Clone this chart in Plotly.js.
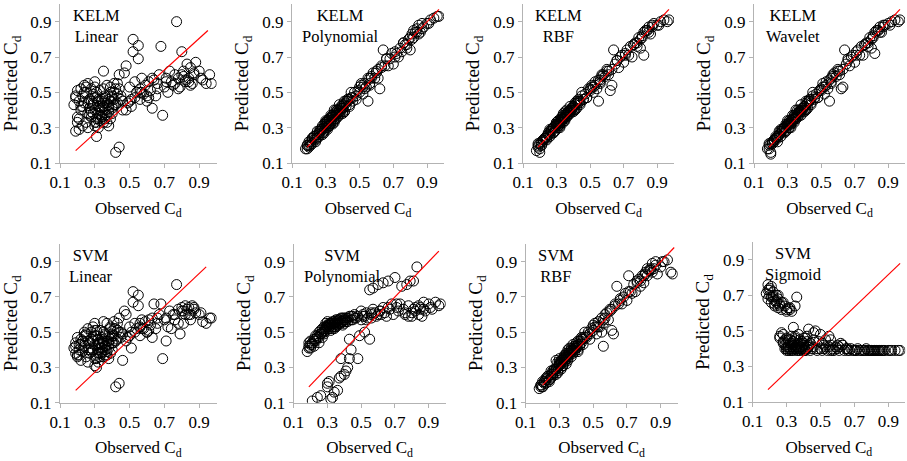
<!DOCTYPE html>
<html><head><meta charset="utf-8">
<script src="https://cdn.plot.ly/plotly-3.0.1.min.js"></script>
<style>html,body{margin:0;padding:0;background:#fff}#chart{width:907px;height:461px}</style>
</head><body><div id="chart"></div>
<script>
// ---------- DATA ----------
const observed = [
0.18,0.19,0.19,0.20,0.20,0.21,0.21,0.22,0.22,0.23,
0.23,0.24,0.24,0.25,0.25,0.26,0.26,0.27,0.27,0.28,
0.28,0.29,0.29,0.30,0.30,0.30,0.31,0.31,0.31,0.32,
0.32,0.32,0.33,0.33,0.33,0.34,0.34,0.34,0.35,0.35,
0.35,0.36,0.36,0.37,0.37,0.38,0.38,0.39,0.39,0.40,
0.40,0.41,0.41,0.42,0.42,0.43,0.44,0.44,0.45,0.46,
0.47,0.48,0.49,0.50,0.51,0.52,0.52,0.53,0.54,0.55,
0.55,0.56,0.56,0.57,0.58,0.59,0.60,0.61,0.62,0.63,
0.64,0.65,0.66,0.67,0.68,0.69,0.70,0.71,0.72,0.73,
0.74,0.75,0.76,0.77,0.78,0.79,0.80,0.81,0.82,0.83,
0.84,0.85,0.86,0.87,0.88,0.90,0.92,0.94,0.96,0.97,
0.20,0.22,0.24,0.26,0.28,0.29,0.30,0.31,0.32,0.33,
0.34,0.35,0.36,0.37,0.38,0.39,0.40,0.41,0.43,0.45,
0.48,0.50,0.53,0.57,0.60,0.63,0.78,0.80,0.82,0.85,
0.19,0.21,0.23,0.25,0.27,0.29,0.30,0.31,0.32,0.33,
0.34,0.35,0.36,0.37,0.38,0.39,0.40,0.41,0.42,0.44,
0.26,0.28,0.30,0.32,0.34,0.36,0.38,0.40,0.43,0.46,
0.51,0.56,0.61,0.66,0.71,0.76,0.81,0.84,0.87,0.91];

const kelmLinear = [
0.43,0.28,0.47,0.36,0.51,0.29,0.45,0.52,0.40,0.31,
0.48,0.54,0.44,0.33,0.50,0.38,0.55,0.46,0.41,0.52,
0.36,0.49,0.43,0.31,0.56,0.40,0.25,0.47,0.35,0.45,
0.38,0.30,0.51,0.42,0.34,0.46,0.39,0.36,0.62,0.44,
0.33,0.48,0.40,0.54,0.37,0.31,0.43,0.50,0.35,0.47,
0.41,0.55,0.46,0.16,0.52,0.44,0.19,0.60,0.48,0.40,
0.61,0.65,0.44,0.53,0.42,0.80,0.73,0.47,0.50,0.765,
0.69,0.52,0.46,0.58,0.49,0.54,0.45,0.56,0.51,0.41,
0.57,0.48,0.55,0.60,0.76,0.37,0.53,0.58,0.50,0.62,
0.56,0.54,0.60,0.90,0.58,0.53,0.73,0.62,0.56,0.66,
0.58,0.64,0.55,0.60,0.67,0.62,0.57,0.55,0.60,0.55,
0.33,0.42,0.50,0.30,0.45,0.38,0.53,0.33,0.42,0.37,
0.45,0.52,0.35,0.44,0.39,0.53,0.48,0.43,0.55,0.46,
0.40,0.45,0.56,0.50,0.48,0.58,0.52,0.60,0.57,0.54,
0.48,0.35,0.42,0.53,0.37,0.44,0.33,0.50,0.46,0.40,
0.36,0.42,0.47,0.33,0.41,0.45,0.38,0.50,0.43,0.52,
0.44,0.39,0.47,0.35,0.41,0.37,0.46,0.42,0.49,0.45,
0.46,0.50,0.47,0.52,0.56,0.55,0.59,0.56,0.61,0.58];

const kelmPolynomial = [
0.18,0.18,0.20,0.22,0.19,0.22,0.21,0.24,0.21,0.24,
0.25,0.24,0.22,0.26,0.28,0.26,0.25,0.29,0.28,0.26,
0.29,0.32,0.28,0.30,0.32,0.34,0.29,0.32,0.34,0.32,
0.34,0.31,0.34,0.37,0.33,0.36,0.32,0.37,0.36,0.40,
0.35,0.38,0.40,0.36,0.40,0.39,0.43,0.41,0.39,0.43,
0.41,0.39,0.45,0.44,0.42,0.46,0.43,0.46,0.50,0.47,
0.50,0.46,0.51,0.50,0.55,0.49,0.53,0.55,0.53,0.58,
0.45,0.58,0.54,0.58,0.61,0.58,0.62,0.58,0.52,0.64,
0.74,0.65,0.69,0.65,0.69,0.72,0.66,0.73,0.72,0.70,
0.75,0.73,0.78,0.77,0.75,0.80,0.74,0.83,0.81,0.84,
0.84,0.88,0.84,0.89,0.87,0.89,0.91,0.92,0.93,0.93,
0.20,0.24,0.23,0.27,0.31,0.27,0.31,0.33,0.31,0.36,
0.36,0.34,0.37,0.40,0.38,0.41,0.41,0.39,0.46,0.47,
0.48,0.53,0.52,0.59,0.61,0.65,0.77,0.81,0.85,0.83,
0.20,0.20,0.25,0.24,0.29,0.30,0.33,0.30,0.35,0.32,
0.37,0.33,0.39,0.38,0.37,0.42,0.38,0.43,0.45,0.42,
0.28,0.27,0.33,0.31,0.36,0.35,0.40,0.39,0.45,0.45,
0.54,0.55,0.63,0.69,0.70,0.78,0.80,0.86,0.86,0.89];

const kelmRBF = [
0.17,0.19,0.20,0.21,0.18,0.22,0.20,0.23,0.22,0.24,
0.24,0.25,0.23,0.26,0.27,0.25,0.26,0.28,0.29,0.27,
0.30,0.31,0.28,0.31,0.33,0.33,0.30,0.31,0.34,0.33,
0.33,0.31,0.35,0.36,0.34,0.35,0.33,0.38,0.36,0.39,
0.36,0.37,0.40,0.37,0.39,0.40,0.42,0.41,0.40,0.42,
0.42,0.40,0.44,0.45,0.41,0.46,0.44,0.45,0.50,0.46,
0.49,0.47,0.52,0.51,0.54,0.50,0.53,0.56,0.52,0.57,
0.45,0.57,0.55,0.59,0.60,0.59,0.63,0.60,0.51,0.63,
0.74,0.66,0.68,0.64,0.70,0.71,0.67,0.72,0.74,0.71,
0.76,0.70,0.77,0.78,0.76,0.81,0.75,0.82,0.71,0.85,
0.85,0.87,0.83,0.88,0.89,0.88,0.90,0.91,0.90,0.91,
0.16,0.23,0.24,0.28,0.30,0.28,0.32,0.32,0.30,0.35,
0.37,0.35,0.38,0.39,0.39,0.40,0.42,0.40,0.45,0.48,
0.47,0.52,0.54,0.60,0.62,0.54,0.78,0.80,0.84,0.84,
0.21,0.20,0.24,0.26,0.28,0.31,0.32,0.31,0.34,0.33,
0.36,0.34,0.38,0.39,0.38,0.41,0.39,0.43,0.44,0.43,
0.29,0.27,0.32,0.32,0.35,0.36,0.39,0.40,0.44,0.46,
0.53,0.56,0.62,0.68,0.71,0.77,0.81,0.85,0.87,0.88];

const kelmWavelet = [
0.18,0.18,0.20,0.21,0.16,0.22,0.21,0.23,0.22,0.25,
0.24,0.25,0.22,0.26,0.28,0.25,0.27,0.28,0.29,0.27,
0.30,0.32,0.28,0.31,0.32,0.34,0.30,0.32,0.34,0.33,
0.33,0.32,0.35,0.37,0.34,0.35,0.33,0.37,0.36,0.40,
0.36,0.38,0.40,0.37,0.39,0.40,0.43,0.41,0.40,0.42,
0.42,0.40,0.45,0.45,0.41,0.46,0.44,0.46,0.50,0.47,
0.49,0.47,0.51,0.51,0.55,0.49,0.53,0.56,0.52,0.57,
0.45,0.58,0.55,0.59,0.61,0.59,0.63,0.60,0.52,0.63,
0.74,0.66,0.69,0.65,0.70,0.71,0.67,0.73,0.74,0.71,
0.76,0.71,0.77,0.78,0.76,0.81,0.75,0.82,0.72,0.85,
0.85,0.87,0.84,0.88,0.88,0.89,0.90,0.91,0.90,0.91,
0.15,0.23,0.24,0.28,0.30,0.28,0.32,0.33,0.30,0.35,
0.37,0.35,0.38,0.40,0.39,0.41,0.42,0.40,0.45,0.48,
0.47,0.52,0.54,0.60,0.62,0.53,0.78,0.80,0.84,0.84,
0.21,0.21,0.24,0.26,0.29,0.31,0.32,0.30,0.34,0.33,
0.36,0.35,0.38,0.39,0.37,0.41,0.39,0.43,0.44,0.43,
0.29,0.28,0.32,0.32,0.35,0.36,0.39,0.40,0.45,0.46,
0.53,0.56,0.62,0.68,0.71,0.77,0.81,0.85,0.87,0.88];

const svmLinear = [
0.41,0.38,0.44,0.36,0.47,0.40,0.43,0.34,0.46,0.39,
0.45,0.50,0.42,0.36,0.48,0.40,0.52,0.44,0.38,0.50,
0.39,0.53,0.45,0.31,0.55,0.43,0.30,0.48,0.37,0.46,
0.40,0.33,0.51,0.44,0.36,0.47,0.41,0.38,0.56,0.45,
0.36,0.49,0.42,0.55,0.39,0.35,0.45,0.52,0.38,0.48,
0.44,0.56,0.48,0.19,0.52,0.46,0.21,0.58,0.50,0.34,
0.62,0.60,0.47,0.53,0.41,0.73,0.67,0.50,0.52,0.71,
0.65,0.55,0.48,0.57,0.52,0.56,0.50,0.57,0.54,0.47,
0.66,0.52,0.58,0.60,0.66,0.35,0.57,0.45,0.53,0.62,
0.52,0.60,0.57,0.77,0.63,0.49,0.64,0.55,0.65,0.63,
0.64,0.60,0.65,0.63,0.61,0.60,0.56,0.55,0.58,0.58,
0.37,0.43,0.48,0.33,0.46,0.40,0.51,0.35,0.43,0.38,
0.46,0.50,0.37,0.45,0.41,0.53,0.49,0.44,0.55,0.47,
0.45,0.48,0.55,0.52,0.50,0.58,0.55,0.62,0.60,0.57,
0.42,0.37,0.45,0.49,0.40,0.47,0.35,0.51,0.44,0.41,
0.39,0.44,0.48,0.37,0.43,0.46,0.40,0.52,0.45,0.50,
0.45,0.41,0.48,0.38,0.43,0.40,0.47,0.44,0.51,0.49,
0.50,0.53,0.51,0.55,0.58,0.60,0.62,0.60,0.64,0.61];

const svmPolynomial = [
0.39,0.42,0.44,0.41,0.45,0.11,0.43,0.46,0.42,0.48,
0.45,0.13,0.47,0.44,0.50,0.14,0.49,0.52,0.47,0.53,
0.50,0.55,0.51,0.21,0.53,0.56,0.22,0.52,0.54,0.12,
0.51,0.54,0.13,0.53,0.56,0.16,0.52,0.55,0.54,0.57,
0.53,0.17,0.55,0.24,0.57,0.25,0.35,0.56,0.54,0.58,
0.55,0.28,0.57,0.30,0.56,0.35,0.40,0.59,0.57,0.60,
0.58,0.35,0.48,0.57,0.60,0.50,0.59,0.61,0.58,0.46,
0.74,0.60,0.58,0.75,0.61,0.59,0.77,0.62,0.60,0.78,
0.61,0.59,0.79,0.63,0.66,0.60,0.81,0.64,0.62,0.66,
0.76,0.63,0.60,0.77,0.65,0.79,0.59,0.79,0.62,0.87,
0.60,0.64,0.59,0.67,0.62,0.66,0.63,0.67,0.65,0.66,
0.43,0.45,0.48,0.51,0.49,0.53,0.19,0.55,0.52,0.55,
0.56,0.53,0.57,0.55,0.58,0.56,0.26,0.58,0.46,0.59,
0.59,0.62,0.57,0.63,0.60,0.64,0.59,0.61,0.64,0.63,
0.41,0.44,0.46,0.47,0.50,0.52,0.54,0.53,0.55,0.53,
0.55,0.56,0.54,0.57,0.56,0.58,0.57,0.56,0.58,0.57,
0.49,0.51,0.53,0.55,0.53,0.56,0.55,0.57,0.59,0.58,
0.59,0.61,0.62,0.64,0.66,0.61,0.63,0.65,0.63,0.64];

const svmRBF = [
0.18,0.19,0.20,0.22,0.19,0.21,0.22,0.23,0.21,0.24,
0.25,0.23,0.22,0.26,0.28,0.25,0.26,0.29,0.27,0.26,
0.29,0.33,0.28,0.31,0.32,0.35,0.29,0.32,0.33,0.31,
0.35,0.31,0.34,0.37,0.33,0.37,0.32,0.38,0.36,0.40,
0.35,0.39,0.41,0.36,0.40,0.40,0.43,0.42,0.39,0.44,
0.41,0.39,0.45,0.45,0.42,0.46,0.43,0.47,0.50,0.48,
0.50,0.46,0.52,0.51,0.55,0.49,0.53,0.56,0.53,0.58,
0.50,0.42,0.55,0.58,0.61,0.57,0.62,0.51,0.49,0.65,
0.76,0.66,0.69,0.66,0.70,0.72,0.68,0.82,0.73,0.72,
0.77,0.73,0.79,0.80,0.76,0.82,0.78,0.84,0.82,0.85,
0.85,0.89,0.86,0.90,0.83,0.87,0.90,0.91,0.84,0.83,
0.19,0.24,0.23,0.27,0.34,0.27,0.32,0.34,0.31,0.36,
0.37,0.34,0.38,0.41,0.38,0.42,0.41,0.40,0.47,0.47,
0.49,0.54,0.53,0.60,0.63,0.66,0.79,0.82,0.86,0.84,
0.20,0.22,0.25,0.24,0.29,0.30,0.33,0.30,0.34,0.35,
0.36,0.37,0.38,0.39,0.40,0.41,0.42,0.43,0.43,0.46,
0.28,0.29,0.31,0.34,0.35,0.37,0.39,0.41,0.44,0.47,
0.53,0.57,0.63,0.68,0.73,0.78,0.83,0.86,0.88,0.90];

const svmSigmoid = [
0.71,0.76,0.68,0.73,0.70,0.66,0.75,0.69,0.72,0.67,
0.65,0.70,0.67,0.63,0.68,0.47,0.65,0.62,0.49,0.66,
0.44,0.64,0.40,0.61,0.46,0.39,0.63,0.42,0.39,0.45,
0.40,0.63,0.39,0.47,0.41,0.52,0.39,0.44,0.64,0.40,
0.46,0.69,0.39,0.43,0.40,0.45,0.39,0.41,0.44,0.39,
0.42,0.39,0.46,0.40,0.44,0.51,0.39,0.43,0.41,0.49,
0.50,0.40,0.44,0.48,0.39,0.42,0.40,0.45,0.39,0.41,
0.47,0.39,0.42,0.40,0.39,0.41,0.42,0.39,0.43,0.42,
0.39,0.40,0.39,0.39,0.40,0.39,0.39,0.39,0.40,0.39,
0.39,0.39,0.39,0.40,0.39,0.39,0.39,0.39,0.39,0.39,
0.39,0.39,0.39,0.39,0.39,0.39,0.39,0.39,0.39,0.39,
0.74,0.70,0.66,0.64,0.48,0.42,0.40,0.45,0.62,0.43,
0.40,0.47,0.41,0.39,0.43,0.40,0.46,0.39,0.42,0.40,
0.39,0.40,0.41,0.39,0.40,0.42,0.39,0.39,0.39,0.39,
0.73,0.69,0.64,0.70,0.66,0.45,0.62,0.41,0.43,0.61,
0.42,0.45,0.40,0.48,0.41,0.44,0.42,0.40,0.47,0.43,
0.46,0.43,0.41,0.39,0.44,0.42,0.40,0.43,0.41,0.45,
0.43,0.45,0.41,0.40,0.39,0.39,0.39,0.39,0.39,0.39];

// reference (red) line end points for each panel: [x0, x1] and [y0, y1]
const refLineX = [[0.19,0.95],[0.19,0.97],[0.19,0.97],[0.19,0.97],[0.19,0.94],[0.19,0.96],[0.20,0.98],[0.19,0.97]];
const refLineY = [[0.17,0.85],[0.19,0.97],[0.19,0.97],[0.19,0.97],[0.17,0.87],[0.19,0.96],[0.20,0.98],[0.17,0.88]];

const modelNames  = ['KELM','KELM','KELM','KELM','SVM','SVM','SVM','SVM'];
const kernelNames = ['Linear','Polynomial','RBF','Wavelet','Linear','Polynomial','RBF','Sigmoid'];
const tickVals = [0.1,0.3,0.5,0.7,0.9];
const tickText = ['0.1','0.3','0.5','0.7','0.9'];
const xTitle = 'Observed C<sub>d</sub>';
const yTitle = 'Predicted C<sub>d</sub>';

const predicted = [kelmLinear,kelmPolynomial,kelmRBF,kelmWavelet,svmLinear,svmPolynomial,svmRBF,svmSigmoid];

// ---------- LAYOUT ----------
const W = 907, H = 461;
// pixel boxes of the plot areas [left, right, top, bottom]
const boxes = [
  [60,216.6,4,163],[292,444,4,163],[523,674,4,163],[754,905,4,163],
  [60,216.6,244,402.7],[293.7,445.6,244,402.7],[525.7,677.6,244,402.7],[752.7,905.2,242,402]
];
const labelPosX = [0.31,0.39,0.31,0.33,0.28,0.39,0.28,0.34];
const FONT = 'Times New Roman, Liberation Serif, serif';

const traces = [];
const layout = {
  width: W, height: H,
  margin: {l:0, r:0, t:0, b:0},
  paper_bgcolor: '#fff', plot_bgcolor: '#fff',
  showlegend: false,
  font: {family: FONT, size: 16, color: '#000'},
  annotations: []
};

predicted.forEach((pred, i) => {
  const n = i + 1;
  const xa = n === 1 ? 'x' : 'x' + n;
  const ya = n === 1 ? 'y' : 'y' + n;
  traces.push({
    type: 'scatter', mode: 'markers', x: observed, y: pred,
    xaxis: xa, yaxis: ya,
    marker: {symbol: 'circle-open', size: 10, color: '#000', line: {width: 1, color: '#000'}},
    hoverinfo: 'x+y'
  });
  traces.push({
    type: 'scatter', mode: 'lines', x: refLineX[i], y: refLineY[i],
    xaxis: xa, yaxis: ya,
    line: {color: '#ff0000', width: 1.2}, hoverinfo: 'skip'
  });
  const b = boxes[i];
  const common = {
    range: [0.1, 1.0], tickvals: tickVals, ticktext: tickText,
    showline: true, linecolor: '#b3b3b3', linewidth: 1,
    ticks: 'outside', ticklen: 4, tickcolor: '#b3b3b3', tickwidth: 1,
    showgrid: false, zeroline: false, fixedrange: true,
    tickfont: {family: FONT, size: 17, color: '#000'}
  };
  layout['xaxis' + (n === 1 ? '' : n)] = Object.assign({}, common, {
    domain: [b[0] / W, b[1] / W], anchor: ya,
    title: {text: xTitle, font: {family: FONT, size: 17, color: '#000'}, standoff: 10}
  });
  layout['yaxis' + (n === 1 ? '' : n)] = Object.assign({}, common, {
    domain: [1 - b[3] / H, 1 - b[2] / H], anchor: xa,
    title: {text: yTitle, font: {family: FONT, size: 19, color: '#000'}, standoff: 8}
  });
  layout.annotations.push({
    xref: xa, yref: ya, x: labelPosX[i], y: 0.875,
    text: modelNames[i] + '<br>' + kernelNames[i],
    showarrow: false, xanchor: 'center', yanchor: 'middle', align: 'center',
    font: {family: FONT, size: 16.5, color: '#000'}
  });
});

Plotly.newPlot('chart', traces, layout, {displayModeBar: false, staticPlot: true});
</script>
</body></html>
